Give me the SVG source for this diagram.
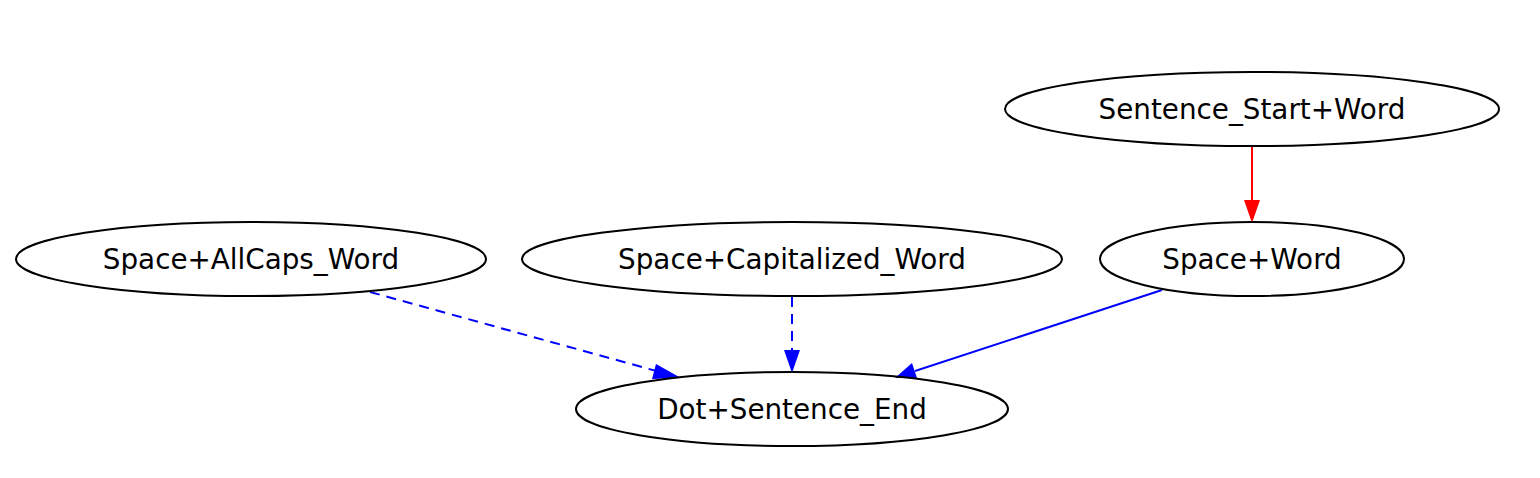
<svg xmlns="http://www.w3.org/2000/svg" width="1540" height="478" viewBox="0 0 1540 478">
<style>
.node ellipse{fill:none;stroke:#000;stroke-width:2}
.node text{font-family:"DejaVu Sans",sans-serif;font-size:27.8px;text-anchor:middle;fill:#000}
.e{fill:none;stroke-width:2}
.dash{stroke-dasharray:10,7}
</style>
<rect width="1540" height="478" fill="#fff"/>
<g id="connectors">
<path class="e" stroke="#f00" d="M1252,147L1252,200"/>
<path d="M1244,200L1260,200L1252,223z" fill="#f00"/>
<path class="e dash" stroke="#00f" d="M370,292L660,372"/>
<path d="M656,364L681,378L652,379z" fill="#00f"/>
<path class="e dash" stroke="#00f" d="M792,297L792,351"/>
<path d="M784,350L800,350L792,373z" fill="#00f"/>
<path class="e" stroke="#00f" d="M1162,290L915,371"/>
<path d="M912,363L895,378L917,378z" fill="#00f"/>
</g>
<g id="n_start" class="node"><ellipse cx="1252" cy="109" rx="247" ry="37"/><text x="1252" y="119">Sentence_Start+Word</text></g>
<g id="n_space_word" class="node"><ellipse cx="1252" cy="259" rx="152" ry="37"/><text x="1252" y="269">Space+Word</text></g>
<g id="n_allcaps" class="node"><ellipse cx="251" cy="259" rx="235" ry="37"/><text x="251" y="269">Space+AllCaps_Word</text></g>
<g id="n_cap" class="node"><ellipse cx="792" cy="259" rx="270" ry="37"/><text x="792" y="269">Space+Capitalized_Word</text></g>
<g id="n_dot" class="node"><ellipse cx="792" cy="409" rx="216" ry="37"/><text x="792" y="419">Dot+Sentence_End</text></g>
</svg>
